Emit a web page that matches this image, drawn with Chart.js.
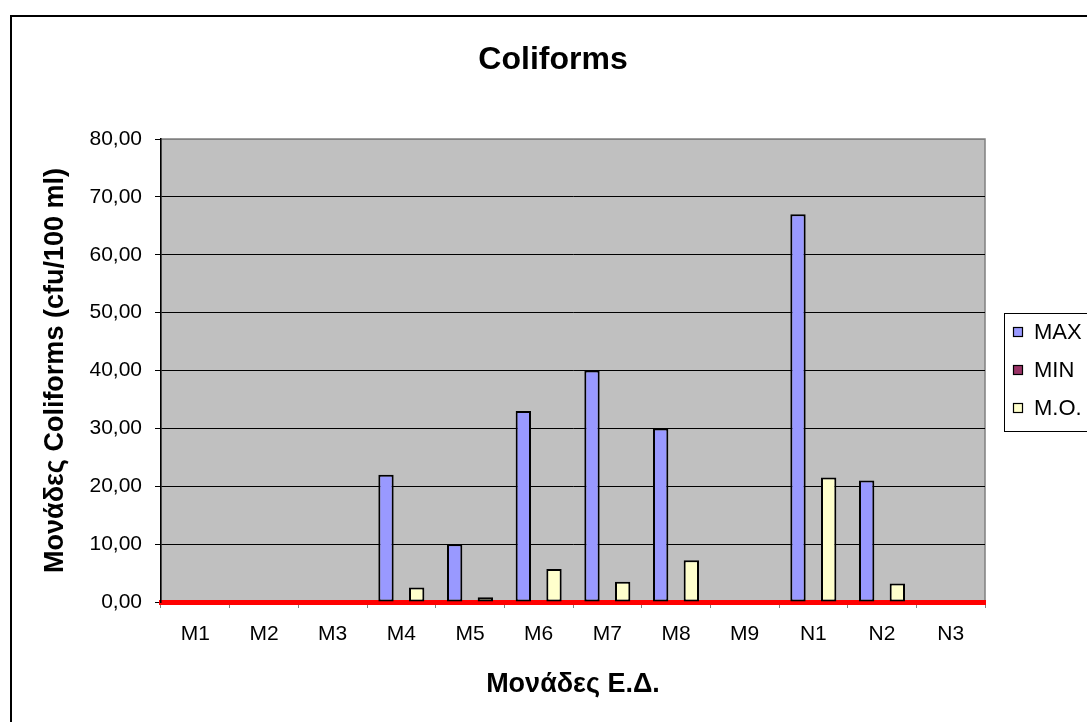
<!DOCTYPE html>
<html>
<head>
<meta charset="utf-8">
<script src="https://cdn.jsdelivr.net/npm/chart.js@4/dist/chart.umd.min.js"></script>
<style>
  html, body { margin: 0; padding: 0; background: #fff; }
  #wrap { width: 1087px; height: 722px; }
</style>
</head>
<body>
<div id="wrap"><canvas id="c" width="1087" height="722"></canvas></div>
<script>
// Sampling units and measured coliform counts (cfu/100 ml)
const categories = ['M1', 'M2', 'M3', 'M4', 'M5', 'M6', 'M7', 'M8', 'M9', 'N1', 'N2', 'N3'];
const maxValues = [0, 0, 0, 22, 10, 33, 40, 30, 0, 67, 21, 0];
const minValues = [0, 0, 0, 0, 0, 0, 0, 0, 0, 0, 0, 0];
const meanValues = [0, 0, 0, 2.5, 0.8, 5.7, 3.5, 7.2, 0, 21.5, 3.2, 0];
const seriesNames = ['MAX', 'MIN', 'M.O.'];
const yTicks = [0, 10, 20, 30, 40, 50, 60, 70, 80];

const chartTitle = 'Coliforms';
const xTitle = 'Μονάδες Ε.Δ.';
const yTitle = 'Μονάδες Coliforms (cfu/100 ml)';

const FONT = '"Liberation Sans", Arial, sans-serif';
const colors = ['#9999FF', '#993366', '#FFFFCC'];

// Outer frame, grey plot area and chart title
const backdrop = {
  id: 'backdrop',
  beforeDraw(chart) {
    const { ctx, chartArea: a } = chart;
    ctx.save();
    ctx.fillStyle = '#ffffff';
    ctx.fillRect(0, 0, chart.width, chart.height);
    ctx.strokeStyle = '#000000';
    ctx.lineWidth = 2;
    ctx.strokeRect(11, 16, chart.width + 40, chart.height + 40);
    ctx.fillStyle = '#C0C0C0';
    ctx.fillRect(a.left, a.top, a.right - a.left, a.bottom - a.top);
    ctx.strokeStyle = '#808080';
    ctx.lineWidth = 1.5;
    ctx.strokeRect(a.left, a.top, a.right - a.left, a.bottom - a.top);
    ctx.fillStyle = '#000000';
    ctx.font = 'bold 32px ' + FONT;
    ctx.textAlign = 'center';
    ctx.textBaseline = 'middle';
    ctx.fillText(chartTitle, 553, 60);
    ctx.restore();
  }
};

// Legend box on the right, built from the datasets
const sideLegend = {
  id: 'sideLegend',
  afterDraw(chart) {
    const { ctx } = chart;
    const x0 = 1004, y0 = 313, rowH = 38;
    const n = chart.data.datasets.length;
    ctx.save();
    ctx.fillStyle = '#ffffff';
    ctx.fillRect(x0, y0, 120, n * rowH + 4);
    ctx.strokeStyle = '#000000';
    ctx.lineWidth = 1;
    ctx.strokeRect(x0 + 0.5, y0 + 0.5, 120, n * rowH + 4);
    ctx.font = '22px ' + FONT;
    ctx.textBaseline = 'middle';
    ctx.textAlign = 'left';
    chart.data.datasets.forEach((ds, i) => {
      const cy = y0 + 19 + i * rowH;
      ctx.fillStyle = ds.backgroundColor;
      ctx.fillRect(1013.5, cy - 4.5, 9, 9);
      ctx.strokeStyle = '#000000';
      ctx.lineWidth = 1.2;
      ctx.strokeRect(1013.5, cy - 4.5, 9, 9);
      ctx.fillStyle = '#000000';
      ctx.fillText(ds.label, 1034, cy + 1);
    });
    ctx.restore();
  }
};

const makeSet = (i, data) => ({
  label: seriesNames[i],
  data: data,
  backgroundColor: colors[i],
  borderColor: '#000000',
  borderWidth: 2,
  borderSkipped: false,
  categoryPercentage: 0.67,
  barPercentage: 1.0
});

new Chart(document.getElementById('c'), {
  type: 'bar',
  data: {
    labels: categories,
    datasets: [makeSet(0, maxValues), makeSet(1, minValues), makeSet(2, meanValues)]
  },
  options: {
    responsive: false,
    animation: false,
    devicePixelRatio: 1,
    layout: { padding: { left: 10, top: 139, right: 102, bottom: 0 } },
    plugins: {
      legend: { display: false },
      title: { display: false },
      tooltip: { enabled: false }
    },
    scales: {
      x: {
        z: 1,
        offset: true,
        afterFit(scale) { scale.height = 120; },
        grid: {
          offset: true,
          drawOnChartArea: false,
          drawTicks: true,
          tickLength: 6,
          tickColor: '#808080',
          tickWidth: 1
        },
        border: { display: true, color: '#FF0000', width: 5 },
        ticks: {
          color: '#000000',
          font: { family: FONT, size: 21 },
          padding: 14,
          maxRotation: 0,
          autoSkip: false
        },
        title: {
          display: true,
          text: xTitle,
          color: '#000000',
          font: { family: FONT, size: 27, weight: 'bold' },
          padding: { top: 0, bottom: 21 }
        }
      },
      y: {
        min: 0,
        max: 80,
        afterFit(scale) { scale.width = 151; },
        afterBuildTicks(scale) { scale.ticks = yTicks.map(v => ({ value: v })); },
        grid: {
          color: (c) => (c.tick && c.tick.value === 80 ? '#808080' : '#000000'),
          lineWidth: 1,
          drawTicks: true,
          tickLength: 6,
          tickColor: '#000000'
        },
        border: { display: true, color: '#000000', width: 1.5 },
        ticks: {
          color: '#000000',
          font: { family: FONT, size: 21 },
          padding: 13,
          callback: (v) => Number(v).toFixed(2).replace('.', ',')
        },
        title: {
          display: true,
          text: yTitle,
          color: '#000000',
          font: { family: FONT, size: 27, weight: 'bold' },
          padding: { top: 29, bottom: 0 }
        }
      }
    }
  },
  plugins: [backdrop, sideLegend]
});
</script>
</body>
</html>
